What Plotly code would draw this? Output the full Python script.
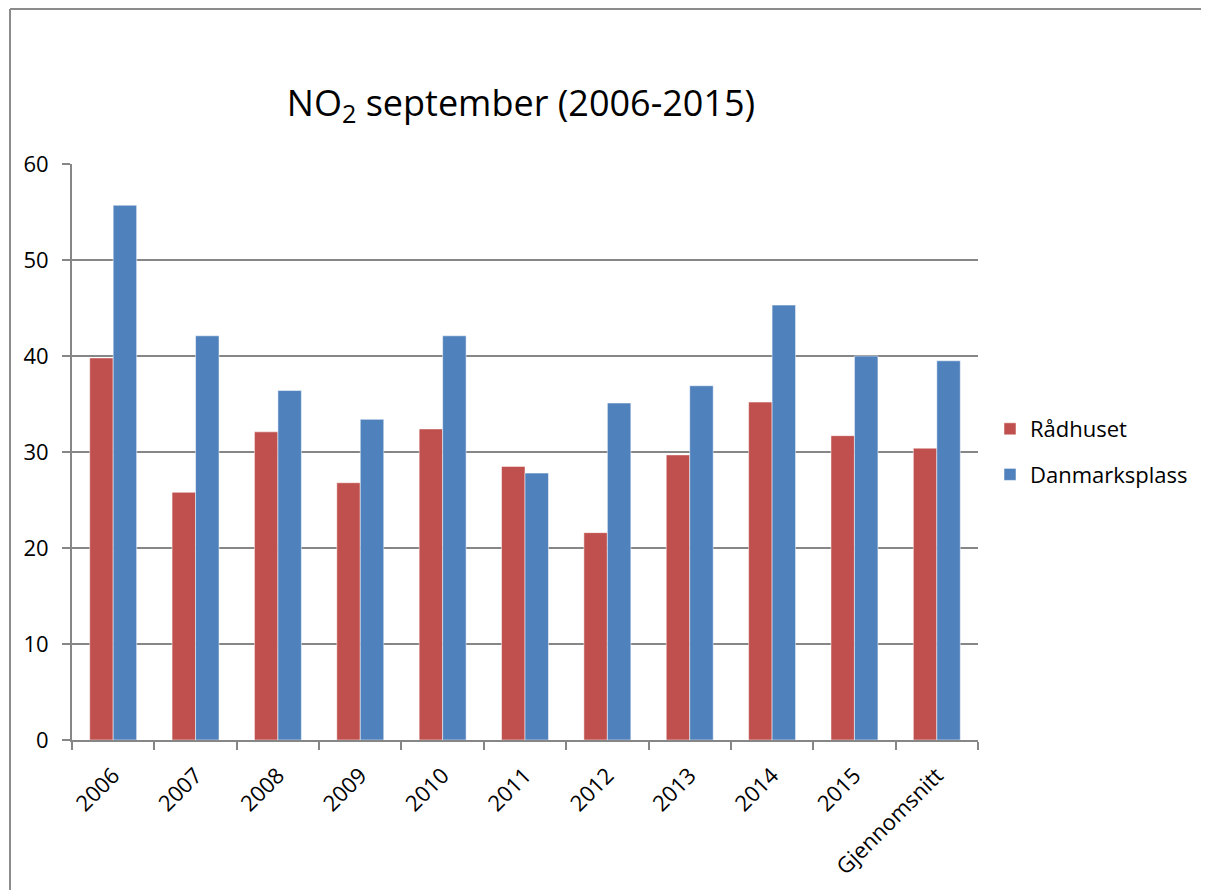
import plotly.graph_objects as go

categories = ["2006", "2007", "2008", "2009", "2010", "2011", "2012", "2013", "2014", "2015", "Gjennomsnitt"]
radhuset = [39.8, 25.8, 32.1, 26.8, 32.4, 28.5, 21.6, 29.7, 35.2, 31.7, 30.4]
danmarksplass = [55.7, 42.1, 36.4, 33.4, 42.1, 27.8, 35.1, 36.9, 45.3, 40.0, 39.5]
y_ticks = [0, 10, 20, 30, 40, 50, 60]

RED = "#C0504D"
BLUE = "#4F81BD"
GRID = "#868686"
FONT = "Open Sans"

# page offset (browser body margin)
OFF = 8

fig = go.Figure()
fig.add_trace(go.Bar(x=categories, y=radhuset, name="Rådhuset",
                     marker=dict(color=RED, line=dict(color="rgba(255,255,255,0.5)", width=1)),
                     legendgroup="a"))
fig.add_trace(go.Bar(x=categories, y=danmarksplass, name="Danmarksplass",
                     marker=dict(color=BLUE, line=dict(color="rgba(255,255,255,0.5)", width=1)),
                     legendgroup="b"))

W, H = 1209 - OFF, 890 - OFF
L, T = 72 - OFF, 164 - OFF
R = W - (978 - OFF)
B = H - (740 - OFF)
pw, ph = W - L - R, H - T - B

def px(x):
    return (x - OFF - L) / pw

def py(y):
    return (H - B - (y - OFF)) / ph

fig.update_layout(
    width=W, height=H,
    margin=dict(l=L, r=R, t=T, b=B, pad=0, autoexpand=False),
    paper_bgcolor="white", plot_bgcolor="white",
    barmode="group", bargap=0.43, bargroupgap=0,
    font=dict(family=FONT, color="black"),
    title=dict(text="NO<sub>2</sub> september (2006-2015)", x=(521 - OFF) / W, xanchor="center",
               y=1 - (103 - OFF) / H, yanchor="middle", font=dict(size=36, family=FONT, color="black")),
    legend=dict(x=px(990), xanchor="left", y=py(452), yanchor="middle",
                font=dict(size=22, family=FONT), traceorder="grouped", tracegroupgap=14,
                bgcolor="rgba(0,0,0,0)"),
    xaxis=dict(type="category", showline=True, linecolor=GRID, linewidth=2, automargin=False,
               ticks="outside", tickson="boundaries", ticklen=8, tickcolor=GRID, tickwidth=2,
               tickangle=-45, tickfont=dict(size=22, family=FONT), showgrid=False,
               ticklabelstandoff=12),
    yaxis=dict(range=[0, 60], tickvals=y_ticks, showline=True, linecolor=GRID, linewidth=2,
               automargin=False,
               ticks="outside", ticklen=8, tickcolor=GRID, tickwidth=2,
               showgrid=True, gridcolor=GRID, gridwidth=2, zeroline=False,
               tickfont=dict(size=22, family=FONT), ticklabelstandoff=9),
    shapes=[
        dict(type="line", xref="paper", yref="paper", x0=px(10), x1=px(10), y0=py(9), y1=py(900),
             line=dict(color="#8c8c8c", width=2)),
        dict(type="line", xref="paper", yref="paper", x0=px(10), x1=px(1220), y0=py(9), y1=py(9),
             line=dict(color="#8c8c8c", width=2)),
    ],
)

fig.write_html("out.html")
